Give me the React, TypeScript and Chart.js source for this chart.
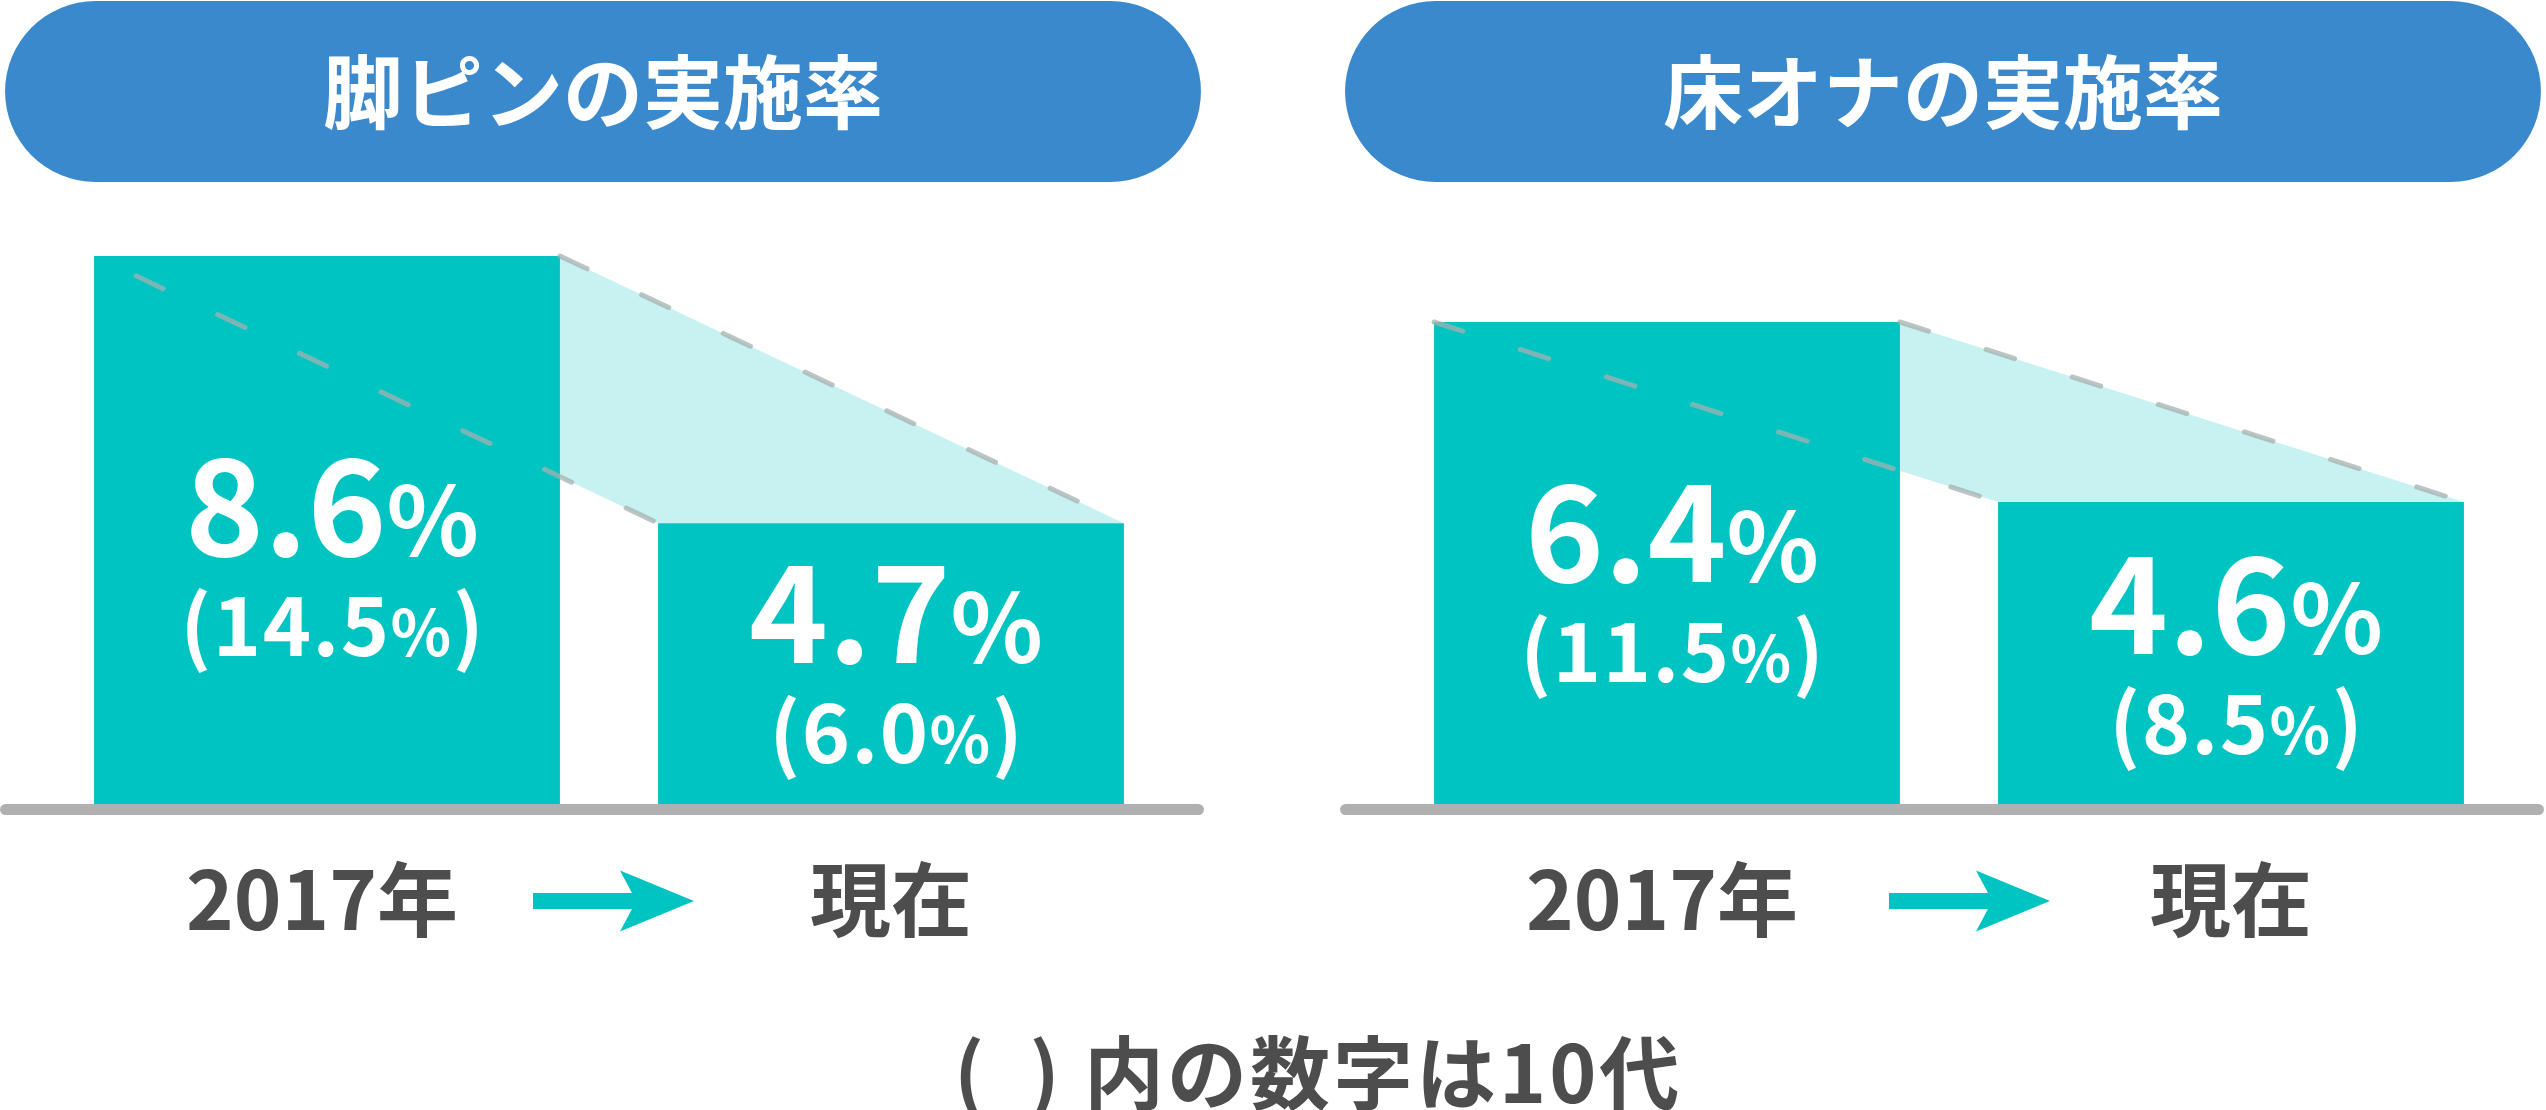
import React, { useEffect, useRef } from 'react';
import { Chart, registerables } from 'chart.js';

Chart.register(...registerables);

// Data
const categories = ['2017年', '現在'];
const panelTitles = ['脚ピンの実施率', '床オナの実施率'];
const ashiPinRates = [8.6, 4.7];
const ashiPinTeenRates = [14.5, 6.0];
const tokoOnaRates = [6.4, 4.6];
const tokoOnaTeenRates = [11.5, 8.5];
const noteText = '(  ) 内の数字は10代';

const FONT = '"Noto Sans CJK JP", "Noto Sans", sans-serif';
const TEAL = '#00c4c1';
const BLUE = '#3a89cc';
const SHADE = '#c8f2f1';
const GRAY = '#b0b0b0';
const INK = '#4d4d4d';
const DASH = 'rgba(165, 176, 176, 0.75)';

const W = 1206;
const H = 1110;

type Part = [string, number];

function drawParts(ctx: CanvasRenderingContext2D, parts: Part[], cx: number, y: number, spacing: number) {
  ctx.letterSpacing = spacing + 'px';
  let total = 0;
  const widths = parts.map(([t, s]) => {
    ctx.font = `700 ${s}px ${FONT}`;
    const w = ctx.measureText(t).width;
    total += w;
    return w;
  });
  let x = cx - (total - spacing) / 2;
  ctx.textAlign = 'left';
  ctx.textBaseline = 'alphabetic';
  parts.forEach(([t, s], i) => {
    ctx.font = `700 ${s}px ${FONT}`;
    ctx.fillText(t, x, y);
    x += widths[i];
  });
  ctx.letterSpacing = '0px';
}

const decor = {
  id: 'decor',
  beforeDatasetsDraw(chart: any, _args: any, opts: any) {
    const ctx: CanvasRenderingContext2D = chart.ctx;
    const bars = chart.getDatasetMeta(0).data;
    const b1 = bars[0], b2 = bars[1];
    const l1 = b1.x - b1.width / 2, r1 = b1.x + b1.width / 2;
    const l2 = b2.x - b2.width / 2, r2 = b2.x + b2.width / 2;
    ctx.save();

    // title pill
    const px0 = l1 - 89, px1 = r2 + 77;
    ctx.fillStyle = BLUE;
    ctx.beginPath();
    ctx.roundRect(px0, 1, px1 - px0, 181, 90.5);
    ctx.fill();
    ctx.fillStyle = '#ffffff';
    ctx.font = `700 80px ${FONT}`;
    ctx.textAlign = 'center';
    ctx.textBaseline = 'alphabetic';
    ctx.fillText(opts.title, (px0 + px1) / 2, 122);

    // projection shading between the two bars
    const yAt = b1.y + ((b2.y - b1.y) * (r1 - l1)) / (l2 - l1);
    ctx.fillStyle = SHADE;
    ctx.beginPath();
    ctx.moveTo(r1, b1.y);
    ctx.lineTo(r2, b2.y);
    ctx.lineTo(l2, b2.y);
    ctx.lineTo(r1, yAt);
    ctx.closePath();
    ctx.fill();
    ctx.restore();
  },
  afterDatasetsDraw(chart: any, _args: any, opts: any) {
    const ctx: CanvasRenderingContext2D = chart.ctx;
    const bars = chart.getDatasetMeta(0).data;
    const b1 = bars[0], b2 = bars[1];
    const l1 = b1.x - b1.width / 2, r1 = b1.x + b1.width / 2;
    const l2 = b2.x - b2.width / 2, r2 = b2.x + b2.width / 2;
    const base = chart.chartArea.bottom;
    ctx.save();

    // dashed guide lines
    ctx.strokeStyle = DASH;
    ctx.lineWidth = 5;
    ctx.lineCap = 'round';
    ctx.setLineDash([30, 60.4]);
    ctx.lineDashOffset = opts.dashLead;
    ctx.beginPath();
    ctx.moveTo(l1, b1.y);
    ctx.lineTo(l2, b2.y);
    ctx.stroke();
    ctx.lineDashOffset = 0;
    ctx.beginPath();
    ctx.moveTo(r1, b1.y);
    ctx.lineTo(r2, b2.y);
    ctx.stroke();
    ctx.setLineDash([]);

    // floor line
    ctx.fillStyle = GRAY;
    ctx.beginPath();
    ctx.roundRect(l1 - 94, base, r2 + 80 - (l1 - 94), 11, 5.5);
    ctx.fill();

    // values inside bars
    ctx.fillStyle = '#ffffff';
    bars.forEach((bar: any, i: number) => {
      const h = base - bar.y;
      const y = base - 29 - 0.4 * h;
      const cx = bar.x + 5;
      const v = chart.data.datasets[0].data[i] as number;
      drawParts(ctx, [[v.toFixed(1), 134], ['%', 96]], cx, y, 0);
      drawParts(ctx, [['(', 82], [opts.teen[i].toFixed(1), 82], ['%', 63], [')', 82]], cx, y + 100, 1.5);
    });

    // category labels
    ctx.fillStyle = INK;
    ctx.font = `700 81px ${FONT}`;
    ctx.textAlign = 'center';
    ctx.textBaseline = 'alphabetic';
    bars.forEach((bar: any, i: number) => {
      ctx.fillText(chart.data.labels[i], bar.x - (i === 0 ? 5 : 0), base + 126);
    });

    // arrow between labels
    const cx = (b1.x + b2.x) / 2 + opts.arrowNudge;
    const cy = base + 97;
    ctx.fillStyle = TEAL;
    ctx.beginPath();
    ctx.moveTo(cx - 80, cy - 8);
    ctx.lineTo(cx + 19, cy - 8);
    ctx.lineTo(cx + 7, cy - 30.5);
    ctx.lineTo(cx + 81, cy);
    ctx.lineTo(cx + 7, cy + 30.5);
    ctx.lineTo(cx + 19, cy + 8);
    ctx.lineTo(cx - 80, cy + 8);
    ctx.closePath();
    ctx.fill();
    ctx.restore();
  },
};

interface PanelProps {
  title: string;
  rates: number[];
  teen: number[];
  yMin: number;
  yMax: number;
  left: number;
  dashLead: number;
  arrowNudge: number;
}

const Panel = ({ title, rates, teen, yMin, yMax, left, dashLead, arrowNudge }: PanelProps) => {
  const chartRef = useRef<HTMLCanvasElement>(null);

  useEffect(() => {
    const ctx = chartRef.current?.getContext('2d');
    if (!ctx) return;
    const chart = new Chart(ctx, {
      type: 'bar',
      data: {
        labels: categories,
        datasets: [
          {
            data: rates,
            backgroundColor: TEAL,
            borderWidth: 0,
            barPercentage: 0.826,
            categoryPercentage: 1,
          },
        ],
      },
      options: {
        responsive: false,
        animation: false,
        events: [],
        layout: { padding: { left: 45, right: W - 1173, top: 256, bottom: H - 804 } },
        plugins: {
          legend: { display: false },
          tooltip: { enabled: false },
          decor: { title, teen, dashLead, arrowNudge },
        } as any,
        scales: {
          x: { display: false },
          y: { display: false, min: yMin, max: yMax },
        },
      },
      plugins: [decor],
    });
    return () => {
      chart.destroy();
    };
  }, []);

  return (
    <canvas
      ref={chartRef}
      width={W}
      height={H}
      style={{ position: 'absolute', left, top: 0, width: W, height: H }}
    />
  );
};

const App = () => {
  return (
    <div
      style={{
        position: 'absolute',
        left: 0,
        top: 0,
        width: 2546,
        height: 1110,
        overflow: 'hidden',
        background: '#ffffff',
      }}
    >
      <Panel title={panelTitles[0]} rates={ashiPinRates} teen={ashiPinTeenRates} yMin={0.6} yMax={8.6} left={0} dashLead={44} arrowNudge={4} />
      <Panel title={panelTitles[1]} rates={tokoOnaRates} teen={tokoOnaTeenRates} yMin={1.58} yMax={7.06} left={1340} dashLead={0} arrowNudge={20} />
      <div
        style={{
          position: 'absolute',
          left: 954,
          top: 1028,
          font: `700 80px ${FONT}`,
          lineHeight: '80px',
          letterSpacing: '3px',
          color: INK,
          whiteSpace: 'pre',
        }}
      >
        {noteText}
      </div>
    </div>
  );
};

export default App;
